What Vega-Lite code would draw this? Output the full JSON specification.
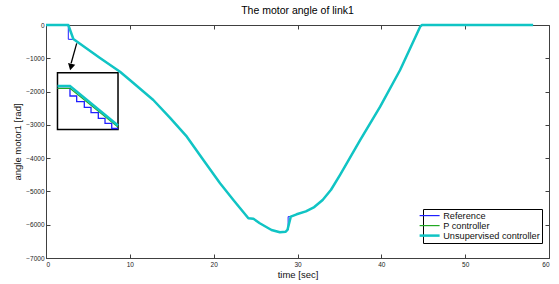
{
  "$schema": "https://vega.github.io/schema/vega-lite/v6.json",
  "width": 503,
  "height": 233,
  "autosize": {"type": "none"},
  "padding": {"left": 46, "top": 25, "right": 10, "bottom": 26},
  "title": {"text": "The motor angle of link1", "fontSize": 10.5, "font": "Liberation Sans", "fontWeight": "normal", "color": "#000", "anchor": "middle", "offset": 6},
  "data": {"values": [
    {"part": "main", "series": "Reference", "i": 0, "t": 0, "angle": 0},
    {"part": "main", "series": "Reference", "i": 1, "t": 2.66, "angle": 0},
    {"part": "main", "series": "Reference", "i": 2, "t": 2.66, "angle": -430},
    {"part": "main", "series": "Reference", "i": 3, "t": 3.26, "angle": -430},
    {"part": "main", "series": "Reference", "i": 4, "t": 6.44, "angle": -990},
    {"part": "main", "series": "Reference", "i": 5, "t": 8.83, "angle": -1403},
    {"part": "main", "series": "Reference", "i": 6, "t": 10, "angle": -1652},
    {"part": "main", "series": "Reference", "i": 7, "t": 12.8, "angle": -2253},
    {"part": "main", "series": "Reference", "i": 8, "t": 14.8, "angle": -2790},
    {"part": "main", "series": "Reference", "i": 9, "t": 16.8, "angle": -3355},
    {"part": "main", "series": "Reference", "i": 10, "t": 18.77, "angle": -4054},
    {"part": "main", "series": "Reference", "i": 11, "t": 20.76, "angle": -4755},
    {"part": "main", "series": "Reference", "i": 12, "t": 22.4, "angle": -5270},
    {"part": "main", "series": "Reference", "i": 13, "t": 24.14, "angle": -5806},
    {"part": "main", "series": "Reference", "i": 14, "t": 24.74, "angle": -5820},
    {"part": "main", "series": "Reference", "i": 15, "t": 25.5, "angle": -5957},
    {"part": "main", "series": "Reference", "i": 16, "t": 26.9, "angle": -6158},
    {"part": "main", "series": "Reference", "i": 17, "t": 27.9, "angle": -6228},
    {"part": "main", "series": "Reference", "i": 18, "t": 28.6, "angle": -6208},
    {"part": "main", "series": "Reference", "i": 19, "t": 28.88, "angle": -6158},
    {"part": "main", "series": "Reference", "i": 20, "t": 28.88, "angle": -5757},
    {"part": "main", "series": "Reference", "i": 21, "t": 29.2, "angle": -5757},
    {"part": "main", "series": "Reference", "i": 22, "t": 29.9, "angle": -5687},
    {"part": "main", "series": "Reference", "i": 23, "t": 31.0, "angle": -5600},
    {"part": "main", "series": "Reference", "i": 24, "t": 32.0, "angle": -5470},
    {"part": "main", "series": "Reference", "i": 25, "t": 33.0, "angle": -5257},
    {"part": "main", "series": "Reference", "i": 26, "t": 34.0, "angle": -4950},
    {"part": "main", "series": "Reference", "i": 27, "t": 35.08, "angle": -4500},
    {"part": "main", "series": "Reference", "i": 28, "t": 37.47, "angle": -3455},
    {"part": "main", "series": "Reference", "i": 29, "t": 39.86, "angle": -2454},
    {"part": "main", "series": "Reference", "i": 30, "t": 42.24, "angle": -1352},
    {"part": "main", "series": "Reference", "i": 31, "t": 44.63, "angle": -50},
    {"part": "main", "series": "Reference", "i": 32, "t": 44.85, "angle": 0},
    {"part": "main", "series": "Reference", "i": 33, "t": 58.1, "angle": 0},

    {"part": "main", "series": "P controller", "i": 0, "t": 0, "angle": 0},
    {"part": "main", "series": "P controller", "i": 1, "t": 2.66, "angle": 0},
    {"part": "main", "series": "P controller", "i": 2, "t": 3.26, "angle": -420},
    {"part": "main", "series": "P controller", "i": 3, "t": 6.44, "angle": -990},
    {"part": "main", "series": "P controller", "i": 4, "t": 8.83, "angle": -1403},
    {"part": "main", "series": "P controller", "i": 5, "t": 10, "angle": -1652},
    {"part": "main", "series": "P controller", "i": 6, "t": 12.8, "angle": -2253},
    {"part": "main", "series": "P controller", "i": 7, "t": 14.8, "angle": -2790},
    {"part": "main", "series": "P controller", "i": 8, "t": 16.8, "angle": -3355},
    {"part": "main", "series": "P controller", "i": 9, "t": 18.77, "angle": -4054},
    {"part": "main", "series": "P controller", "i": 10, "t": 20.76, "angle": -4755},
    {"part": "main", "series": "P controller", "i": 11, "t": 22.4, "angle": -5270},
    {"part": "main", "series": "P controller", "i": 12, "t": 24.14, "angle": -5806},
    {"part": "main", "series": "P controller", "i": 13, "t": 24.74, "angle": -5820},
    {"part": "main", "series": "P controller", "i": 14, "t": 25.5, "angle": -5957},
    {"part": "main", "series": "P controller", "i": 15, "t": 26.9, "angle": -6158},
    {"part": "main", "series": "P controller", "i": 16, "t": 27.9, "angle": -6228},
    {"part": "main", "series": "P controller", "i": 17, "t": 28.6, "angle": -6208},
    {"part": "main", "series": "P controller", "i": 18, "t": 28.8, "angle": -6158},
    {"part": "main", "series": "P controller", "i": 19, "t": 29.2, "angle": -5757},
    {"part": "main", "series": "P controller", "i": 20, "t": 29.9, "angle": -5687},
    {"part": "main", "series": "P controller", "i": 21, "t": 31.0, "angle": -5600},
    {"part": "main", "series": "P controller", "i": 22, "t": 32.0, "angle": -5470},
    {"part": "main", "series": "P controller", "i": 23, "t": 33.0, "angle": -5257},
    {"part": "main", "series": "P controller", "i": 24, "t": 34.0, "angle": -4950},
    {"part": "main", "series": "P controller", "i": 25, "t": 35.08, "angle": -4500},
    {"part": "main", "series": "P controller", "i": 26, "t": 37.47, "angle": -3455},
    {"part": "main", "series": "P controller", "i": 27, "t": 39.86, "angle": -2454},
    {"part": "main", "series": "P controller", "i": 28, "t": 42.24, "angle": -1352},
    {"part": "main", "series": "P controller", "i": 29, "t": 44.63, "angle": -50},
    {"part": "main", "series": "P controller", "i": 30, "t": 44.85, "angle": 0},
    {"part": "main", "series": "P controller", "i": 31, "t": 58.1, "angle": 0},

    {"part": "main", "series": "Unsupervised controller", "i": 0, "t": 0, "angle": 0},
    {"part": "main", "series": "Unsupervised controller", "i": 1, "t": 2.66, "angle": 0},
    {"part": "main", "series": "Unsupervised controller", "i": 2, "t": 3.26, "angle": -420},
    {"part": "main", "series": "Unsupervised controller", "i": 3, "t": 6.44, "angle": -990},
    {"part": "main", "series": "Unsupervised controller", "i": 4, "t": 8.83, "angle": -1403},
    {"part": "main", "series": "Unsupervised controller", "i": 5, "t": 10, "angle": -1652},
    {"part": "main", "series": "Unsupervised controller", "i": 6, "t": 12.8, "angle": -2253},
    {"part": "main", "series": "Unsupervised controller", "i": 7, "t": 14.8, "angle": -2790},
    {"part": "main", "series": "Unsupervised controller", "i": 8, "t": 16.8, "angle": -3355},
    {"part": "main", "series": "Unsupervised controller", "i": 9, "t": 18.77, "angle": -4054},
    {"part": "main", "series": "Unsupervised controller", "i": 10, "t": 20.76, "angle": -4755},
    {"part": "main", "series": "Unsupervised controller", "i": 11, "t": 22.4, "angle": -5270},
    {"part": "main", "series": "Unsupervised controller", "i": 12, "t": 24.14, "angle": -5806},
    {"part": "main", "series": "Unsupervised controller", "i": 13, "t": 24.74, "angle": -5820},
    {"part": "main", "series": "Unsupervised controller", "i": 14, "t": 25.5, "angle": -5957},
    {"part": "main", "series": "Unsupervised controller", "i": 15, "t": 26.9, "angle": -6158},
    {"part": "main", "series": "Unsupervised controller", "i": 16, "t": 27.9, "angle": -6228},
    {"part": "main", "series": "Unsupervised controller", "i": 17, "t": 28.6, "angle": -6208},
    {"part": "main", "series": "Unsupervised controller", "i": 18, "t": 28.8, "angle": -6158},
    {"part": "main", "series": "Unsupervised controller", "i": 19, "t": 29.2, "angle": -5757},
    {"part": "main", "series": "Unsupervised controller", "i": 20, "t": 29.9, "angle": -5687},
    {"part": "main", "series": "Unsupervised controller", "i": 21, "t": 31.0, "angle": -5600},
    {"part": "main", "series": "Unsupervised controller", "i": 22, "t": 32.0, "angle": -5470},
    {"part": "main", "series": "Unsupervised controller", "i": 23, "t": 33.0, "angle": -5257},
    {"part": "main", "series": "Unsupervised controller", "i": 24, "t": 34.0, "angle": -4950},
    {"part": "main", "series": "Unsupervised controller", "i": 25, "t": 35.08, "angle": -4500},
    {"part": "main", "series": "Unsupervised controller", "i": 26, "t": 37.47, "angle": -3455},
    {"part": "main", "series": "Unsupervised controller", "i": 27, "t": 39.86, "angle": -2454},
    {"part": "main", "series": "Unsupervised controller", "i": 28, "t": 42.24, "angle": -1352},
    {"part": "main", "series": "Unsupervised controller", "i": 29, "t": 44.63, "angle": -50},
    {"part": "main", "series": "Unsupervised controller", "i": 30, "t": 44.85, "angle": 0},
    {"part": "main", "series": "Unsupervised controller", "i": 31, "t": 58.1, "angle": 0},

    {"part": "inset", "series": "Reference", "i": 0, "t": 1.37, "angle": -1902},
    {"part": "inset", "series": "Reference", "i": 1, "t": 2.86, "angle": -1902},
    {"part": "inset", "series": "Reference", "i": 2, "t": 2.86, "angle": -2133},
    {"part": "inset", "series": "Reference", "i": 3, "t": 3.66, "angle": -2133},
    {"part": "inset", "series": "Reference", "i": 4, "t": 3.66, "angle": -2304},
    {"part": "inset", "series": "Reference", "i": 5, "t": 4.57, "angle": -2304},
    {"part": "inset", "series": "Reference", "i": 6, "t": 4.57, "angle": -2472},
    {"part": "inset", "series": "Reference", "i": 7, "t": 5.37, "angle": -2472},
    {"part": "inset", "series": "Reference", "i": 8, "t": 5.37, "angle": -2634},
    {"part": "inset", "series": "Reference", "i": 9, "t": 6.24, "angle": -2634},
    {"part": "inset", "series": "Reference", "i": 10, "t": 6.24, "angle": -2803},
    {"part": "inset", "series": "Reference", "i": 11, "t": 7.04, "angle": -2803},
    {"part": "inset", "series": "Reference", "i": 12, "t": 7.04, "angle": -2953},
    {"part": "inset", "series": "Reference", "i": 13, "t": 7.84, "angle": -2953},
    {"part": "inset", "series": "Reference", "i": 14, "t": 7.84, "angle": -3110},
    {"part": "inset", "series": "Reference", "i": 15, "t": 8.59, "angle": -3110},
    {"part": "inset", "series": "P controller", "i": 0, "t": 1.37, "angle": -1902},
    {"part": "inset", "series": "P controller", "i": 1, "t": 2.86, "angle": -1902},
    {"part": "inset", "series": "P controller", "i": 2, "t": 8.59, "angle": -3064},
    {"part": "inset", "series": "Unsupervised controller", "i": 0, "t": 1.37, "angle": -1832},
    {"part": "inset", "series": "Unsupervised controller", "i": 1, "t": 2.86, "angle": -1832},
    {"part": "inset", "series": "Unsupervised controller", "i": 2, "t": 8.59, "angle": -3019}
  ]},
  "layer": [
    {
      "data": {"values": [{"x1": 1.37, "x2": 8.59, "y1": -1433, "y2": -3140}]},
      "mark": {"type": "rect", "fill": "#ffffff", "stroke": "#000000", "strokeWidth": 1.5},
      "encoding": {
        "x": {"field": "x1", "type": "quantitative", "scale": {"domain": [0, 60], "nice": false}, "axis": {"orient": "top", "values": [0, 10, 20, 30, 40, 50, 60], "labels": false, "title": null, "domain": false}},
        "x2": {"field": "x2"},
        "y": {"field": "y1", "type": "quantitative", "scale": {"domain": [-7000, 0], "nice": false}, "axis": {"orient": "right", "values": [-7000, -6000, -5000, -4000, -3000, -2000, -1000, 0], "labels": false, "title": null, "domain": false}},
        "y2": {"field": "y2"}
      }
    },
    {
      "transform": [{"filter": "datum.part == 'main'"}],
      "mark": {"type": "line", "strokeJoin": "round"},
      "encoding": {
        "x": {"field": "t", "type": "quantitative", "scale": {"domain": [0, 60], "nice": false}, "axis": {"orient": "bottom", "values": [0, 10, 20, 30, 40, 50, 60], "format": "d", "title": "time [sec]", "labelPadding": 7, "titlePadding": 2}},
        "y": {"field": "angle", "type": "quantitative", "scale": {"domain": [-7000, 0], "nice": false}, "axis": {"orient": "left", "values": [-7000, -6000, -5000, -4000, -3000, -2000, -1000, 0], "format": "d", "title": "angle motor1 [rad]", "labelPadding": 6, "titlePadding": 3}},
        "color": {"field": "series", "type": "nominal", "scale": {"domain": ["Reference", "P controller", "Unsupervised controller"], "range": ["#2020ff", "#22a822", "#10c4c4"]}, "legend": {"title": null, "encode": {"symbols": {"update": {"strokeWidth": {"signal": "datum.value === 'Unsupervised controller' ? 2.5 : 1.2"}}}}}},
        "strokeWidth": {"condition": {"test": "datum.series === 'Unsupervised controller'", "value": 2.5}, "value": 1},
        "order": {"field": "i", "type": "quantitative"}
      }
    },
    {
      "transform": [{"filter": "datum.part == 'inset'"}],
      "mark": {"type": "line", "strokeJoin": "miter"},
      "encoding": {
        "x": {"field": "t", "type": "quantitative", "scale": {"domain": [0, 60], "nice": false}, "axis": null},
        "y": {"field": "angle", "type": "quantitative", "scale": {"domain": [-7000, 0], "nice": false}, "axis": null},
        "color": {"field": "series", "type": "nominal", "legend": {"title": null, "encode": {"symbols": {"update": {"strokeWidth": {"signal": "datum.value === 'Unsupervised controller' ? 2.5 : 1.2"}}}}}},
        "strokeWidth": {"condition": {"test": "datum.series === 'Unsupervised controller'", "value": 2.5}, "value": 1.3},
        "order": {"field": "i", "type": "quantitative"}
      }
    },
    {
      "data": {"values": [{"x1": 3.66, "y1": -553, "x2": 3.0, "y2": -1150}]},
      "mark": {"type": "rule", "color": "#000000", "strokeWidth": 1.3},
      "encoding": {
        "x": {"field": "x1", "type": "quantitative", "axis": null},
        "y": {"field": "y1", "type": "quantitative", "axis": null},
        "x2": {"field": "x2"},
        "y2": {"field": "y2"}
      }
    },
    {
      "data": {"values": [{"x": 2.97, "y": -1265}]},
      "mark": {"type": "point", "shape": "triangle-down", "filled": true, "color": "#000000", "size": 55, "angle": 13.6, "opacity": 1},
      "encoding": {
        "x": {"field": "x", "type": "quantitative", "axis": null},
        "y": {"field": "y", "type": "quantitative", "axis": null}
      }
    }
  ],
  "resolve": {"axis": {"x": "independent", "y": "independent"}},
  "config": {
    "view": {"stroke": "#404040", "strokeWidth": 1},
    "axis": {
      "grid": false,
      "domainColor": "#404040",
      "tickColor": "#404040",
      "tickSize": -4,
      "labelFont": "Liberation Sans",
      "labelFontSize": 6.5,
      "labelColor": "#222222",
      "titleFont": "Liberation Sans",
      "titleFontSize": 9.5,
      "titleFontWeight": "normal",
      "titleColor": "#111111"
    },
    "legend": {
      "orient": "none",
      "legendX": 377,
      "legendY": 184,
      "strokeColor": "#000000",
      "fillColor": "#ffffff",
      "padding": 2,
      "labelFont": "Liberation Sans",
      "labelFontSize": 9.2,
      "labelColor": "#111111",
      "labelOffset": 9,
      "symbolType": "stroke",
      "symbolSize": 400,
      "rowPadding": -6.5
    }
  }
}
